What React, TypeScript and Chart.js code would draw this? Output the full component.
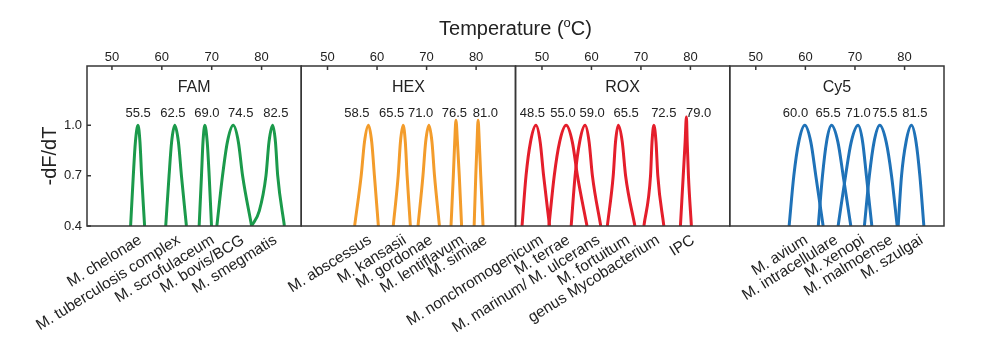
import React, { useEffect, useRef } from 'react';
import { Chart, registerables } from 'chart.js';

Chart.register(...registerables);

const FONT = "'Liberation Sans', Arial, Helvetica, sans-serif";
const TEXT = '#222222';
const FRAME = '#363636';

// ---- axes ----
const temperatureTicks = [50, 60, 70, 80];
const yTicks = [0.4, 0.7, 1.0];
const yMin = 0.4;
const yMax = 1.354;
const axisMin = [45.0, 44.7, 44.65, 44.75];
const axisMax = [87.95, 87.95, 87.95, 87.95];

// ---- panels ----
const panelNames = ['FAM', 'HEX', 'ROX', 'Cy5'];
const panelColors = ['#1b9a4b', '#f39c2b', '#e41e2b', '#1f72b8'];

// ---- melting temperatures (peak labels) and where they are printed (°C) ----
const famTm = [55.5, 62.5, 69.0, 74.5, 82.5];
const hexTm = [58.5, 65.5, 71.0, 76.5, 81.0];
const roxTm = [48.5, 55.0, 59.0, 65.5, 72.5, 79.0];
const cy5Tm = [60.0, 65.5, 71.0, 75.5, 81.5];

const famTmLabelAt = [55.24, 62.21, 69.04, 75.82, 82.85];
const hexTmLabelAt = [55.94, 62.94, 68.8, 75.6, 81.86];
const roxTmLabelAt = [48.05, 54.25, 60.13, 67.01, 74.62, 81.67];
const cy5TmLabelAt = [58.01, 64.59, 70.64, 76.02, 82.08];

// ---- species (bottom labels) and their tick positions (°C) ----
const famSpecies = ['M. chelonae', 'M. tuberculosis complex', 'M. scrofulaceum', 'M. bovis/BCG', 'M. smegmatis'];
const hexSpecies = ['M. abscessus', 'M. kansasii', 'M. gordonae', 'M. lentiflavum', 'M. simiae'];
const roxSpecies = ['M. nonchromogenicum', 'M. terrae', 'M. marinum/ M. ulcerans', 'M. fortuitum', 'genus Mycobacterium', 'IPC'];
const cy5Species = ['M. avium', 'M. intracellulare', 'M. xenopi', 'M. malmoense', 'M. szulgai'];

const famSpeciesAt = [55.34, 63.05, 69.88, 75.9, 82.45];
const hexSpeciesAt = [58.26, 65.26, 70.6, 76.94, 81.6];
const roxSpeciesAt = [49.66, 55.03, 61.07, 67.11, 73.15, 80.2];
const cy5SpeciesAt = [59.88, 65.93, 71.32, 77.03, 83.08];

// ---- melting curves: [temperature, -dF/dT] ----
const famCurves = [
  [[53.74, 0.4], [54.28, 0.7], [54.7, 0.9], [55.22, 1.0], [55.62, 0.9], [55.95, 0.7], [56.55, 0.4]],
  [[60.78, 0.4], [61.45, 0.7], [61.96, 0.9], [62.59, 1.0], [63.33, 0.9], [63.93, 0.7], [64.93, 0.4]],
  [[67.48, 0.4], [67.95, 0.7], [68.25, 0.9], [68.62, 1.0], [69.1, 0.9], [69.49, 0.7], [69.96, 0.4]],
  [[71.03, 0.4], [72.17, 0.7], [73.14, 0.9], [74.32, 1.0], [75.35, 0.9], [76.19, 0.7], [78.0, 0.4]],
  [[78.0, 0.4], [79.54, 0.49], [80.88, 0.7], [81.48, 0.9], [82.22, 1.0], [82.78, 0.9], [83.23, 0.7], [84.57, 0.4]],
];
const hexCurves = [
  [[55.47, 0.4], [56.8, 0.7], [57.46, 0.9], [58.27, 1.0], [58.93, 0.9], [59.47, 0.7], [60.27, 0.4]],
  [[63.27, 0.4], [64.27, 0.7], [64.72, 0.9], [65.27, 1.0], [65.71, 0.9], [66.07, 0.7], [66.73, 0.4]],
  [[68.27, 0.4], [69.27, 0.7], [69.81, 0.9], [70.47, 1.0], [71.09, 0.9], [71.6, 0.7], [72.6, 0.4]],
  [[74.93, 0.4], [75.4, 0.7], [75.68, 0.9], [75.93, 1.03], [76.23, 0.9], [76.6, 0.7], [77.07, 0.4]],
  [[79.6, 0.4], [79.93, 0.7], [80.19, 0.9], [80.4, 1.03], [80.64, 0.9], [80.93, 0.7], [81.4, 0.4]],
];
const roxCurves = [
  [[45.97, 0.4], [46.78, 0.7], [47.68, 0.9], [48.79, 1.0], [49.64, 0.9], [50.33, 0.7], [51.53, 0.4]],
  [[51.4, 0.4], [52.48, 0.7], [53.56, 0.9], [54.89, 1.0], [56.14, 0.9], [57.17, 0.7], [59.1, 0.4]],
  [[55.9, 0.4], [56.7, 0.7], [57.61, 0.9], [58.72, 1.0], [59.53, 0.9], [60.19, 0.7], [61.88, 0.4]],
  [[63.21, 0.4], [64.4, 0.7], [64.86, 0.9], [65.42, 1.0], [66.23, 0.9], [66.9, 0.7], [68.78, 0.4]],
  [[70.6, 0.4], [71.94, 0.7], [72.24, 0.9], [72.61, 1.0], [73.05, 0.9], [73.41, 0.7], [74.63, 0.4]],
  [[77.98, 0.4], [78.55, 0.7], [78.93, 0.9], [79.19, 1.05], [79.35, 0.9], [79.6, 0.7], [80.2, 0.4]],
];
const cy5Curves = [
  [[56.72, 0.4], [57.67, 0.7], [58.66, 0.9], [59.88, 1.0], [61.1, 0.9], [62.1, 0.7], [63.58, 0.4]],
  [[62.6, 0.4], [63.45, 0.7], [64.26, 0.9], [65.26, 1.0], [66.56, 0.9], [67.62, 0.7], [69.16, 0.4]],
  [[66.6, 0.4], [68.1, 0.7], [69.24, 0.9], [70.64, 1.0], [71.55, 0.9], [72.3, 0.7], [73.4, 0.4]],
  [[71.9, 0.4], [72.9, 0.7], [73.84, 0.9], [75.0, 1.0], [76.3, 0.9], [77.37, 0.7], [78.51, 0.4]],
  [[78.71, 0.4], [79.39, 0.7], [80.29, 0.9], [81.4, 1.0], [82.32, 0.9], [83.08, 0.7], [83.89, 0.4]],
];

const panelCurves = [famCurves, hexCurves, roxCurves, cy5Curves];
const panelTm = [famTm, hexTm, roxTm, cy5Tm];
const panelTmLabelAt = [famTmLabelAt, hexTmLabelAt, roxTmLabelAt, cy5TmLabelAt];
const panelSpecies = [famSpecies, hexSpecies, roxSpecies, cy5Species];
const panelSpeciesAt = [famSpeciesAt, hexSpeciesAt, roxSpeciesAt, cy5SpeciesAt];

const LABEL_ANGLE = (32 * Math.PI) / 180;

const decorPlugin = {
  id: 'meltDecor',
  afterDatasetsDraw(chart: any) {
    const ctx: CanvasRenderingContext2D = chart.ctx;
    const { top, bottom, left, right } = chart.chartArea;
    const ys = chart.scales.y;
    ctx.save();

    // frames and inward ticks
    ctx.strokeStyle = FRAME;
    ctx.lineWidth = 1.5;
    for (let p = 0; p < 4; p++) {
      const s = chart.scales['x' + p];
      ctx.strokeRect(s.left, top, s.right - s.left, bottom - top);
      ctx.beginPath();
      for (const v of temperatureTicks) {
        const px = s.getPixelForValue(v);
        ctx.moveTo(px, top);
        ctx.lineTo(px, top + 4);
      }
      ctx.stroke();
    }
    ctx.beginPath();
    for (const v of yTicks) {
      const py = ys.getPixelForValue(v);
      ctx.moveTo(left, py);
      ctx.lineTo(left + 4, py);
    }
    ctx.stroke();

    ctx.fillStyle = TEXT;
    for (let p = 0; p < 4; p++) {
      const s = chart.scales['x' + p];
      // panel name
      ctx.font = `16px ${FONT}`;
      ctx.textAlign = 'center';
      ctx.textBaseline = 'alphabetic';
      ctx.fillText(panelNames[p], (s.left + s.right) / 2, 92);
      // Tm labels
      ctx.font = `13px ${FONT}`;
      panelTm[p].forEach((tm, i) => {
        ctx.fillText(tm.toFixed(1), s.getPixelForValue(panelTmLabelAt[p][i]), 116.5);
      });
      // species labels (rotated)
      ctx.font = `15.5px ${FONT}`;
      ctx.textAlign = 'right';
      panelSpecies[p].forEach((name, i) => {
        const px = s.getPixelForValue(panelSpeciesAt[p][i]);
        ctx.save();
        ctx.translate(px + 4, 242.5);
        ctx.rotate(-LABEL_ANGLE);
        ctx.fillText(name, 0, 0);
        ctx.restore();
      });
    }

    // axis title (top): Temperature (ºC) with superscript o
    const cx = (left + right) / 2;
    const part1 = 'Temperature (';
    const part2 = 'o';
    const part3 = 'C)';
    ctx.textAlign = 'left';
    ctx.font = `20px ${FONT}`;
    const w1 = ctx.measureText(part1).width;
    const w3 = ctx.measureText(part3).width;
    ctx.font = `13px ${FONT}`;
    const w2 = ctx.measureText(part2).width;
    let x = cx - (w1 + w2 + w3) / 2;
    ctx.font = `20px ${FONT}`;
    ctx.fillText(part1, x, 35);
    x += w1;
    ctx.font = `13px ${FONT}`;
    ctx.fillText(part2, x, 27);
    x += w2;
    ctx.font = `20px ${FONT}`;
    ctx.fillText(part3, x, 35);

    // y axis title
    ctx.save();
    ctx.translate(55.5, 156);
    ctx.rotate(-Math.PI / 2);
    ctx.textAlign = 'center';
    ctx.font = `20px ${FONT}`;
    ctx.fillText('-dF/dT', 0, 0);
    ctx.restore();

    ctx.restore();
  },
};

export default function App() {
  const canvasRef = useRef<HTMLCanvasElement | null>(null);

  useEffect(() => {
    const canvas = canvasRef.current;
    if (!canvas) return;

    const datasets: any[] = [];
    panelCurves.forEach((curves, p) => {
      curves.forEach((curve) => {
        datasets.push({
          data: curve.map(([x, y]) => ({ x, y })),
          xAxisID: 'x' + p,
          yAxisID: 'y',
          borderColor: panelColors[p],
          borderWidth: 3,
          pointRadius: 0,
          fill: false,
          cubicInterpolationMode: 'monotone',
          borderJoinStyle: 'round',
        });
      });
    });

    const scales: any = {
      y: {
        type: 'linear',
        position: 'left',
        min: yMin,
        max: yMax,
        afterBuildTicks: (s: any) => {
          s.ticks = yTicks.map((v) => ({ value: v }));
        },
        afterFit: (s: any) => {
          s.width = 87;
        },
        grid: { display: false, drawTicks: false },
        border: { display: false },
        ticks: {
          font: { family: FONT, size: 13 },
          color: TEXT,
          padding: 5,
          callback: (v: any) => Number(v).toFixed(1),
        },
      },
    };
    // top boxes are laid out in reverse insertion order, so add the last panel first
    for (let p = 3; p >= 0; p--) {
      scales['x' + p] = {
        type: 'linear',
        axis: 'x',
        position: 'top',
        stack: 'temperature',
        stackWeight: 1,
        min: axisMin[p],
        max: axisMax[p],
        afterBuildTicks: (s: any) => {
          s.ticks = temperatureTicks.map((v) => ({ value: v }));
        },
        afterFit: (s: any) => {
          s.height = 66;
        },
        grid: { display: false, drawTicks: false },
        border: { display: false },
        ticks: {
          font: { family: FONT, size: 13 },
          color: TEXT,
          padding: 1,
          maxRotation: 0,
          autoSkip: false,
          callback: (v: any) => String(v),
        },
      };
    }

    const chart = new Chart(canvas, {
      type: 'line',
      data: { datasets },
      options: {
        animation: false,
        responsive: false,
        devicePixelRatio: 1,
        layout: { padding: { left: 0, right: 56, top: 0, bottom: 116 } },
        plugins: {
          legend: { display: false },
          tooltip: { enabled: false },
          title: { display: false },
        },
        scales,
      } as any,
      plugins: [decorPlugin],
    });

    return () => chart.destroy();
  }, []);

  return (
    <div style={{ position: 'fixed', left: 0, top: 0, width: 1000, height: 342, background: '#ffffff' }}>
      <canvas ref={canvasRef} width={1000} height={342} style={{ display: 'block' }} />
    </div>
  );
}
